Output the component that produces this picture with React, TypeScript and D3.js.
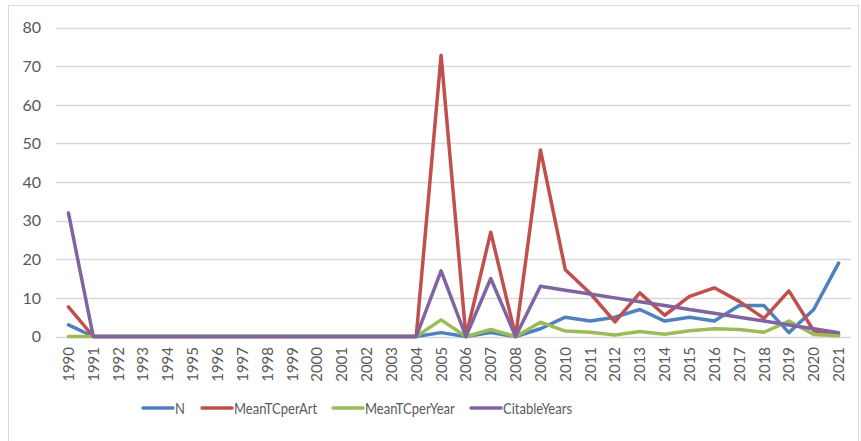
import React, { useEffect, useRef } from "react";
import * as d3 from "d3";

const years = d3.range(1990, 2022).map(String);

const nValues = [3, 0, 0, 0, 0, 0, 0, 0, 0, 0, 0, 0, 0, 0, 0, 1, 0, 1, 0, 2, 5, 4, 5, 7, 4, 5, 4, 8, 8, 1, 7, 19];
const meanTCperArt = [7.7, 0, 0, 0, 0, 0, 0, 0, 0, 0, 0, 0, 0, 0, 0, 72.8, 0, 27, 0, 48.3, 17.3, 11.2, 3.8, 11.3, 5.5, 10.4, 12.6, 9.1, 4.7, 11.8, 1.5, 0.5];
const meanTCperYear = [0, 0, 0, 0, 0, 0, 0, 0, 0, 0, 0, 0, 0, 0, 0, 4.3, 0, 1.8, 0, 3.7, 1.4, 1.1, 0.4, 1.3, 0.6, 1.5, 2, 1.8, 1.1, 4, 0.5, 0.2];
const citableYears = [32, 0, 0, 0, 0, 0, 0, 0, 0, 0, 0, 0, 0, 0, 0, 17, 0, 15, 0, 13, 12, 11, 10, 9, 8, 7, 6, 5, 4, 3, 2, 1];

const yTicks = [0, 10, 20, 30, 40, 50, 60, 70, 80];

const series = [
  { name: "N", values: nValues, color: "#4F81BD" },
  { name: "MeanTCperArt", values: meanTCperArt, color: "#C0504D" },
  { name: "MeanTCperYear", values: meanTCperYear, color: "#9BBB59" },
  { name: "CitableYears", values: citableYears, color: "#8064A2" },
];

const font = "Lato, 'Open Sans', sans-serif";

export default function App() {
  const ref = useRef<SVGSVGElement>(null);

  useEffect(() => {
    const svg = d3.select(ref.current);
    svg.selectAll("*").remove();

    const left = 56, right = 851, top = 27.5, bottom = 336.5;

    svg.append("rect")
      .attr("x", 8.5).attr("y", 5.5)
      .attr("width", 850).attr("height", 440)
      .attr("fill", "white").attr("stroke", "#d9d9d9");

    const x = d3.scalePoint<string>().domain(years).range([left, right]).padding(0.5);
    const y = d3.scaleLinear().domain([0, 80]).range([bottom, top]);

    // gridlines
    svg.append("g").selectAll("line")
      .data(yTicks)
      .join("line")
      .attr("x1", left).attr("x2", right)
      .attr("y1", d => Math.round(y(d)) + 0.5)
      .attr("y2", d => Math.round(y(d)) + 0.5)
      .attr("stroke", "#d9d9d9").attr("stroke-width", 1.3);

    svg.append("g").selectAll("text")
      .data(yTicks)
      .join("text")
      .attr("x", 41).attr("y", d => y(d))
      .attr("dy", "0.36em")
      .attr("text-anchor", "end")
      .attr("font-family", font).attr("font-size", 16)
      .attr("fill", "#595959")
      .text(d => d);

    svg.append("g").selectAll("text")
      .data(years)
      .join("text")
      .attr("transform", d => `translate(${x(d)! + 5.5},347) rotate(-90)`)
      .attr("text-anchor", "end")
      .attr("font-family", font).attr("font-size", 15)
      .attr("fill", "#595959")
      .text(d => d);

    const line = d3.line<number>()
      .x((_, i) => x(years[i])!)
      .y(d => y(d));

    svg.append("g").selectAll("path")
      .data(series)
      .join("path")
      .attr("d", s => line(s.values))
      .attr("fill", "none")
      .attr("stroke", s => s.color)
      .attr("stroke-width", 3.5)
      .attr("stroke-linejoin", "round")
      .attr("stroke-linecap", "round");

    // legend
    const legendX = [143, 202, 333, 471];
    const lg = svg.append("g").selectAll("g")
      .data(series)
      .join("g")
      .attr("transform", (_, i) => `translate(${legendX[i]},408)`);
    lg.append("line")
      .attr("x1", 0).attr("x2", 30)
      .attr("stroke", s => s.color)
      .attr("stroke-width", 3.5)
      .attr("stroke-linecap", "round");
    lg.append("text")
      .attr("transform", "translate(32,0) scale(0.84,1)")
      .attr("dy", "0.36em")
      .attr("font-family", font).attr("font-size", 15.5)
      .attr("fill", "#595959")
      .text(s => s.name);
  }, []);

  return (
    <svg ref={ref} width={861} height={441}
      style={{ position: "absolute", left: 0, top: 0 }} />
  );
}
